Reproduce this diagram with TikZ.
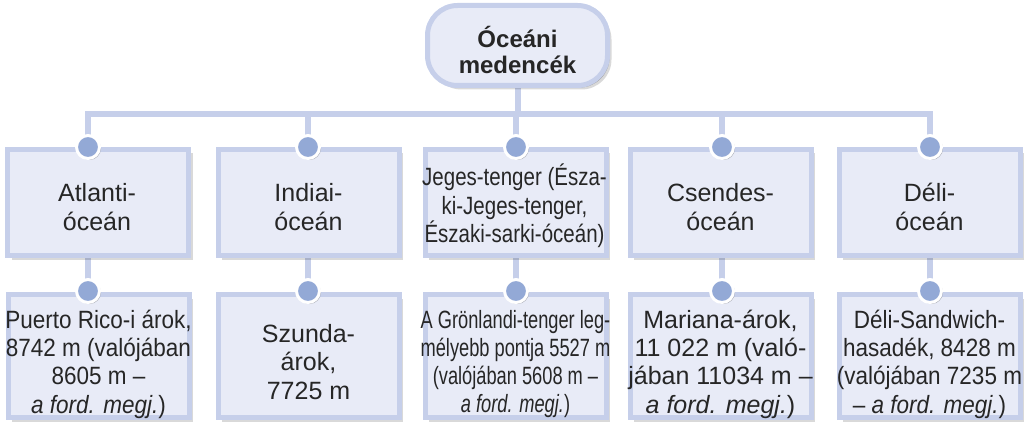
\documentclass[tikz,border=0pt]{standalone}
\usepackage{fontspec}
\setmainfont{Liberation Sans}
\newfontfamily\nA[FakeStretch=0.9]{Liberation Sans}
\newfontfamily\nB[FakeStretch=0.82]{Liberation Sans}
\newfontfamily\nC[FakeStretch=0.73]{Liberation Sans}
\usetikzlibrary{shadows,backgrounds}
\definecolor{bord}{HTML}{C6CFEA}
\definecolor{boxfill}{HTML}{E8EBF7}
\definecolor{dotc}{HTML}{93A9D6}
\definecolor{connc}{HTML}{C6CFEA}
\begin{document}
\begin{tikzpicture}[x=1pt,y=-1pt,
 shad/.style={drop shadow={shadow xshift=2pt,shadow yshift=-2pt,opacity=.3,fill=black},
              drop shadow={shadow xshift=4pt,shadow yshift=-4pt,opacity=.15,fill=black}},
 box/.style={draw=bord, line width=5pt, fill=boxfill, shad, inner sep=0pt, minimum width=181pt},
 lvlone/.style={box, minimum height=106pt},
 lvltwo/.style={box, minimum height=123pt},
 txt/.style={align=center, inner sep=0pt, text=black!85, font=#1\fontsize{25}{28.3}\selectfont},
 topbox/.style={draw=bord, line width=5pt, fill=boxfill, shad, inner sep=0pt,
             rounded corners=30pt, minimum width=180pt, minimum height=80pt},
 toptxt/.style={align=center, inner sep=0pt, text=black!85, font=\bfseries\fontsize{24}{26.5}\selectfont},
 dotn/.style={circle, fill=dotc, draw=white, line width=3pt, minimum size=23pt, inner sep=0pt,
             drop shadow={shadow xshift=1.5pt,shadow yshift=-1.5pt,opacity=.25,fill=black}},
 link/.style={draw=connc, line width=6pt}]
\useasboundingbox (0,0) rectangle (1028,425);
\coordinate (bus) at (0,114);
% top box
\node[topbox] (top) at (517.5,45.5) {};
\node[toptxt] (ttop) at (517.5,50) {Óceáni\\medencék};
% level-one boxes
\node[lvlone] (A1) at (98,202.5) {};
\node[lvlone] (A2) at (308.5,202.5) {};
\node[lvlone] (A3) at (515.5,202.5) {};
\node[lvlone] (A4) at (720.5,202.5) {};
\node[lvlone] (A5) at (929.5,202.5) {};
\node[txt=\rmfamily] (tA1) at (97,207) {Atlanti-\\óceán};
\node[txt=\rmfamily] (tA2) at (308.5,207) {Indiai-\\óceán};
\node[txt=\nB] (tA3) at (514.5,206) {Jeges-tenger (Észa-\\ki-Jeges-tenger,\\Északi-sarki-óceán)};
\node[txt=\rmfamily] (tA4) at (720.5,207) {Csendes-\\óceán};
\node[txt=\rmfamily] (tA5) at (929.5,207) {Déli-\\óceán};
% level-two boxes
\node[lvltwo] (B1) at (98.5,356) {};
\node[lvltwo] (B2) at (308.5,356) {};
\node[lvltwo] (B3) at (515.5,356) {};
\node[lvltwo] (B4) at (720.5,356) {};
\node[lvltwo] (B5) at (929.5,356) {};
\node[txt=\nA] (tB1) at (98.5,364) {Puerto Rico-i árok,\\8742 m (valójában\\8605 m –\\\textit{a ford. megj.})};
\node[txt=\rmfamily] (tB2) at (308.5,362) {Szunda-\\árok,\\7725 m};
\node[txt=\nC] (tB3) at (515.5,364) {A Grönlandi-tenger leg-\\mélyebb pontja 5527 m\\(valójában 5608 m –\\\textit{a ford. megj.})};
\node[txt=\rmfamily] (tB4) at (720.5,364) {Mariana-árok,\\11 022 m (való-\\jában 11034 m –\\\textit{a ford. megj.})};
\node[txt=\nA] (tB5) at (929.5,364) {Déli-Sandwich-\\hasadék, 8428 m\\(valójában 7235 m\\– \textit{a ford. megj.})};
% dots
\node[dotn] (a1) at (88,147) {};
\node[dotn] (a2) at (308,147) {};
\node[dotn] (a3) at (516,147) {};
\node[dotn] (a4) at (722,147) {};
\node[dotn] (a5) at (930,147) {};
\node[dotn] (b1) at (88,291) {};
\node[dotn] (b2) at (308,291) {};
\node[dotn] (b3) at (516,291) {};
\node[dotn] (b4) at (722,291) {};
\node[dotn] (b5) at (930,291) {};
% connectors (behind)
\begin{scope}[on background layer]
\draw[link] (top.south) -- (top.south |- bus);
\draw[link] ([xshift=-3pt]a1 |- bus) -- ([xshift=3pt]a5 |- bus);
\foreach \i in {1,...,5}{
  \draw[link] (a\i |- bus) -- (a\i.center);
  \draw[link] (A\i.south -| b\i) -- (b\i.center);
}
\end{scope}
\end{tikzpicture}
\end{document}
